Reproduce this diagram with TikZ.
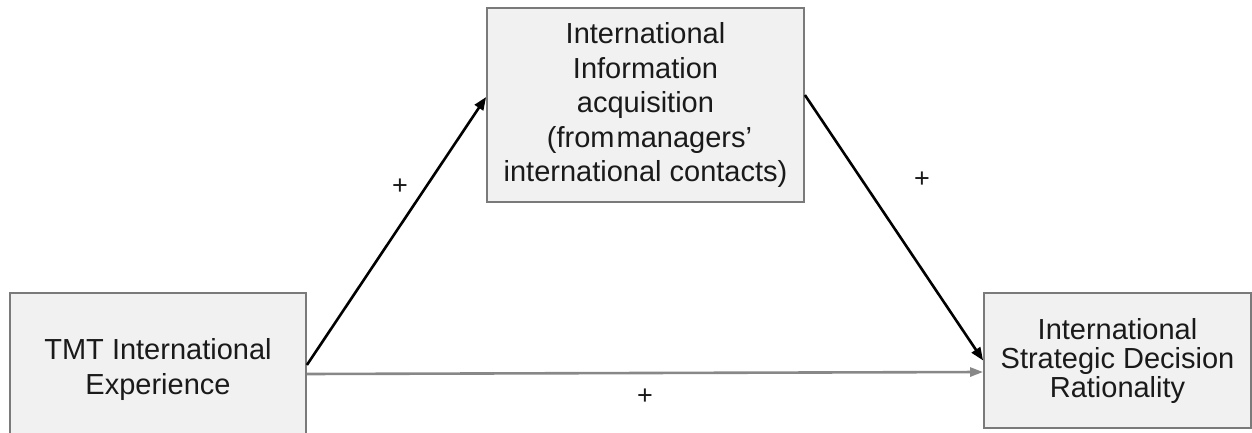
\documentclass[tikz,border=0pt]{standalone}
\usepackage{fontspec}
\setmainfont{Liberation Sans}
\usetikzlibrary{arrows.meta}
\definecolor{boxfill}{HTML}{F1F1F1}
\definecolor{boxline}{HTML}{7A7A7A}
\definecolor{txt}{HTML}{1A1A1A}
\definecolor{grayarrow}{HTML}{888888}
\tikzset{
  box/.style={draw=boxline, line width=1.8pt, fill=boxfill, text=txt, align=center, inner sep=0pt},
  blackarrow/.style={draw=black, line width=2.6pt, -{Triangle[length=13pt,width=10pt]}},
  grayarr/.style={draw=grayarrow, line width=2.6pt, -{Triangle[length=13pt,width=9pt]}},
  plus/.style={text=txt, font=\fontsize{27}{27}\selectfont, inner sep=0pt}
}
\begin{document}
\begin{tikzpicture}[x=1pt,y=-1pt]
\useasboundingbox (0,0) rectangle (1252,433);
\clip (0,0) rectangle (1252,433);
\node[box, minimum width=296pt, minimum height=152pt, font=\fontsize{29}{35}\selectfont] (L) at (158,369) {TMT International\\Experience};
\node[box, minimum width=317pt, minimum height=194pt, font=\fontsize{29}{34.5}\selectfont] (T) at (645.5,105) {International\\Information\\acquisition\\\hspace*{8pt}(from\hspace{2pt}managers’\\international contacts)};
\node[box, minimum width=267pt, minimum height=135pt, font=\fontsize{29}{29}\selectfont] (R) at (1117.5,360.5) {International\\Strategic Decision\\Rationality};
\draw[blackarrow] ([yshift=4pt]L.east) -- ([yshift=8pt]T.west);
\draw[blackarrow] ([yshift=10pt]T.east) -- (R.west);
\draw[grayarr] ([yshift=-5pt]L.east) -- ([yshift=-11.5pt]R.west);
\node[plus] (p1) at (400,187) {+};
\node[plus] (p2) at (922,180) {+};
\node[plus] (p3) at (645,397) {+};
\end{tikzpicture}
\end{document}
